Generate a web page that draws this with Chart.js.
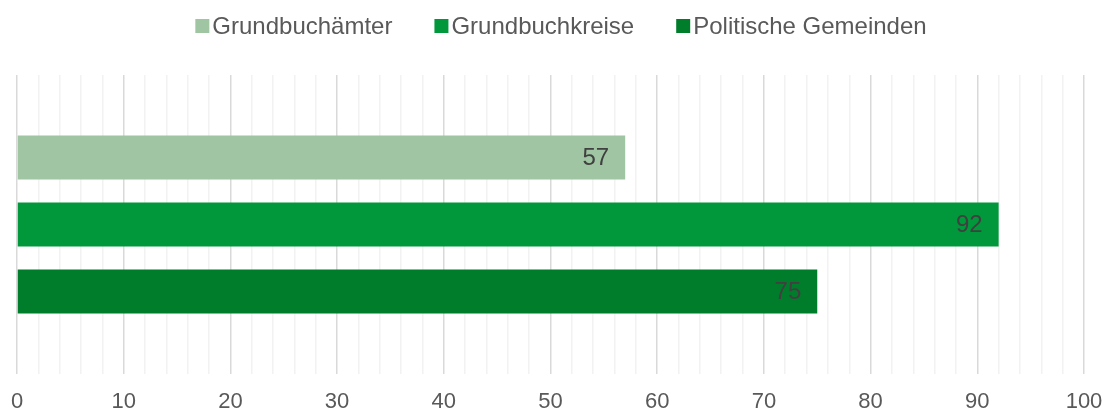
<!DOCTYPE html>
<html>
<head>
<meta charset="utf-8">
<script src="https://cdn.jsdelivr.net/npm/chart.js@4.4.1/dist/chart.umd.min.js"></script>
<style>
  html, body { margin: 0; padding: 0; background: #ffffff; }
  #wrap { width: 1106px; height: 412px; position: relative; }
</style>
</head>
<body>
<div id="wrap"><canvas id="c"></canvas></div>
<script>
// ---- data ----
const categories = [''];
const seriesNames = ['Grundbuchämter', 'Grundbuchkreise', 'Politische Gemeinden'];
const seriesValues = [[57], [92], [75]];
const seriesColors = ['#A0C5A3', '#00983A', '#007D2B'];
const xMin = 0, xMax = 100, xStep = 2, xLabelStep = 10;

const FONT = '"Liberation Sans", Arial, sans-serif';

const valueLabelPlugin = {
  id: 'valueLabels',
  afterDatasetsDraw(chart) {
    const ctx = chart.ctx;
    ctx.save();
    ctx.font = '24px ' + FONT;
    ctx.fillStyle = '#404040';
    ctx.textAlign = 'right';
    ctx.textBaseline = 'middle';
    chart.data.datasets.forEach((ds, i) => {
      const meta = chart.getDatasetMeta(i);
      meta.data.forEach((el, j) => {
        ctx.fillText(String(ds.data[j]), el.x - 16, el.y + 1);
      });
    });
    ctx.restore();
  }
};

const legendPlugin = {
  id: 'customLegend',
  afterDraw(chart) {
    const ctx = chart.ctx;
    ctx.save();
    ctx.font = '24px ' + FONT;
    const box = 14, gapText = 3, gapItem = 42;
    const items = chart.data.datasets.map(ds => ({
      text: ds.label, color: ds.backgroundColor, w: ctx.measureText(ds.label).width
    }));
    let total = 0;
    items.forEach((it, i) => { total += box + gapText + it.w + (i < items.length - 1 ? gapItem : 0); });
    let x = chart.width / 2 + 8 - total / 2;
    const yc = 26;
    ctx.textBaseline = 'middle';
    ctx.textAlign = 'left';
    items.forEach(it => {
      ctx.fillStyle = it.color;
      ctx.fillRect(x, yc - box / 2, box, box);
      ctx.fillStyle = '#595959';
      ctx.fillText(it.text, x + box + gapText, yc + 1);
      x += box + gapText + it.w + gapItem;
    });
    ctx.restore();
  }
};

new Chart(document.getElementById('c'), {
  type: 'bar',
  data: {
    labels: categories,
    datasets: seriesNames.map((n, i) => ({
      label: n,
      data: seriesValues[i],
      backgroundColor: seriesColors[i],
      borderWidth: 0,
      categoryPercentage: 0.672,
      barPercentage: 0.657
    }))
  },
  options: {
    indexAxis: 'y',
    responsive: true,
    maintainAspectRatio: false,
    animation: false,
    layout: { padding: { top: 75, left: 17, right: 22, bottom: 0 } },
    plugins: {
      legend: { display: false },
      tooltip: { enabled: false }
    },
    scales: {
      x: {
        min: xMin, max: xMax,
        border: { display: false },
        afterFit: s => { s.height = 38; },
        grid: {
          drawTicks: false,
          color: c => (c.tick && c.tick.value % xLabelStep === 0) ? '#D9D9D9' : '#F2F2F2',
          lineWidth: 1.5
        },
        ticks: {
          stepSize: xStep,
          autoSkip: false,
          maxRotation: 0,
          padding: 0,
          color: '#595959',
          font: { family: FONT, size: 22, lineHeight: 2.55 },
          callback: v => (v % xLabelStep === 0 ? String(v) : '')
        }
      },
      y: {
        display: false,
        grid: { display: false }
      }
    }
  },
  plugins: [valueLabelPlugin, legendPlugin]
});
</script>
</body>
</html>
